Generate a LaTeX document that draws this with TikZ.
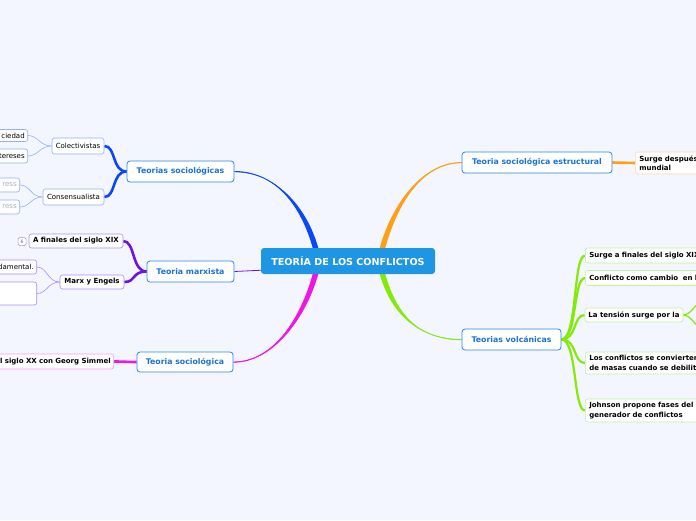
\documentclass[tikz,border=0pt]{standalone}
\usepackage{fontspec}
\setmainfont{DejaVu Sans}
\usetikzlibrary{calc}
\pgfdeclarelayer{edges}
\pgfsetlayers{edges,main}
\definecolor{bgc}{RGB}{243,246,254}
\definecolor{rootfill}{RGB}{30,150,228}
\definecolor{mainborder}{RGB}{45,135,230}
\definecolor{maintext}{RGB}{25,115,215}
\definecolor{cblue}{RGB}{10,70,250}
\definecolor{corange}{RGB}{255,160,20}
\definecolor{cmag}{RGB}{240,20,230}
\definecolor{cgreen}{RGB}{130,235,10}
\definecolor{cpurple}{RGB}{110,20,225}
\definecolor{lblue}{RGB}{150,175,250}
\definecolor{lpurple}{RGB}{175,140,245}
\definecolor{lpink}{RGB}{240,160,240}
\definecolor{lorange}{RGB}{250,215,170}
\definecolor{lgreen}{RGB}{195,240,160}
\definecolor{grayt}{RGB}{170,175,188}
\newcommand\taperedge[6]{%
  \fill[#1] (#2) .. controls +(#4) and +(#5) .. ($(#3)+(-#6,0)$) -- ($(#3)+(#6,0)$) .. controls +(#5) and +(#4) .. ($(#2)+(0,0.6)$) -- cycle;
  \draw[#1, line width=0.9pt] (#2) .. controls +(#4) and +(#5) .. (#3);}
\begin{document}
\begin{tikzpicture}[x=1pt,y=-1pt,
  mainbox/.style={draw=mainborder,fill=white,rounded corners=3pt,line width=0.8pt,text=maintext,font=\bfseries\fontsize{7.8}{9}\selectfont,inner sep=0pt},
  subbox/.style={draw=#1,fill=white,rounded corners=2.5pt,line width=0.6pt,font=\fontsize{7}{9.5}\selectfont,inner sep=0pt},
  subbold/.style={subbox=#1,font=\bfseries\fontsize{7}{9.5}\selectfont},
  rcut/.style={anchor=west,inner xsep=4pt,inner ysep=0pt,text width=160pt,align=left},
  lcut/.style={anchor=east,inner xsep=3pt,inner ysep=0pt,text width=60pt,align=right},
  thickedge/.style={line width=2.6pt},
  thinedge/.style={line width=0.6pt}
]
\useasboundingbox (0,0) rectangle (696,520);
\begin{pgfonlayer}{edges}
\fill[bgc] (0,0) rectangle (696,520);
\end{pgfonlayer}

% root
\node[fill=rootfill,rounded corners=3pt,text=white,font=\bfseries\fontsize{9.6}{11}\selectfont,minimum width=174pt,minimum height=26pt,inner sep=0pt] (root) at (348,261) {TEORÍA DE LOS CONFLICTOS};

% Teorias sociologicas
\node[mainbox,minimum width=107pt,minimum height=21pt] (soc) at (180.5,171.5) {Teorias sociológicas};
\node[subbox=lblue,minimum width=52pt,minimum height=16pt] (col) at (78,146) {Colectivistas};
\node[subbox=lblue,minimum width=61pt,minimum height=16pt] (cons) at (73.5,197) {Consensualista};
\node[subbox=lblue,lcut,minimum height=12pt] (c1) at (28,135.5) {ciedad};
\node[subbox=lblue,lcut,minimum height=14pt] (c2) at (28,156) {tereses};
\node[subbox=lblue,lcut,minimum height=14pt,text=grayt] (g1) at (20,185) {ress};
\node[subbox=lblue,lcut,minimum height=14pt,text=grayt] (g2) at (20,207) {ress};

% Teoria marxista
\node[mainbox,minimum width=87pt,minimum height=21pt] (marx) at (190.5,271.5) {Teoria marxista};
\node[subbold=lpurple,minimum width=94pt,minimum height=14pt] (fin) at (76,241) {A finales del siglo XIX};
\node[draw=lpurple,fill=white,rounded corners=1.5pt,line width=0.5pt,font=\fontsize{4.5}{5}\selectfont,text=black!60,minimum width=8pt,minimum height=8pt,inner sep=0pt] (ic) at (22,241.5) {6};
\node[subbold=lpurple,minimum width=64pt,minimum height=14pt] (me) at (92,282) {Marx y Engels};
\node[subbox=lpurple,lcut,minimum height=14pt] (d1) at (37,267) {damental.};
\node[subbox=lpurple,lcut,minimum height=23pt] (d2) at (37,293.5) {};

% Teoria sociologica
\node[mainbox,minimum width=96pt,minimum height=20pt] (socio) at (185,362) {Teoria sociológica};
\node[subbold=lpink,lcut,text width=140pt,minimum height=15pt] (sim) at (114,361.5) {l siglo XX con Georg Simmel};

% estructural
\node[mainbox,minimum width=150pt,minimum height=21pt] (est) at (537,162.5) {Teoria sociológica estructural};
\node[subbold=lorange,rcut,minimum height=22pt] (surg) at (635,163) {Surge después\\mundial};

% volcanicas
\node[mainbox,minimum width=99pt,minimum height=21pt] (volc) at (511.5,339.5) {Teorias volcánicas};
\node[subbold=lgreen,rcut,minimum height=15pt] (v1) at (585,255.5) {Surge a finales del siglo XIX};
\node[subbold=lgreen,rcut,minimum height=15pt] (v2) at (585,278) {Conflicto como cambio\ \ en l};
\node[subbold=lgreen,minimum width=98pt,minimum height=14pt] (v3) at (634,315) {La tensión surge por la};
\node[subbold=lgreen,rcut,minimum height=22pt] (v4) at (585,363) {Los conflictos se convierten\\de masas cuando se debilita};
\node[subbold=lgreen,rcut,minimum height=23pt] (v5) at (585,410.5) {Johnson propone fases del\\generador de conflictos};

\coordinate (rb) at ($(root.north)+(-32,2)$);
\coordinate (ro) at ($(root.north)+(34,2)$);
\coordinate (rm) at ($(root.south)+(-32,-2)$);
\coordinate (rg) at ($(root.south)+(34,-2)$);
\coordinate (rp) at ($(root.south west)+(1,-4)$);
\coordinate (o1) at (702,302);
\coordinate (o2) at (702,328);

\begin{pgfonlayer}{edges}
\taperedge{cblue}{soc.east}{rb}{40,0}{-12,-45}{2.8}
\taperedge{corange}{est.west}{ro}{-40,0}{12,-45}{2.8}
\taperedge{cmag}{socio.east}{rm}{40,0}{-12,45}{2.8}
\taperedge{cgreen}{volc.west}{rg}{-40,0}{12,45}{2.8}
\draw[cpurple,line width=0.8pt] (rp) -- (marx.east);

\draw[cblue,thickedge] (soc.west) .. controls +(-15,0) and +(12,0) .. (col.east);
\draw[cblue,thickedge] (soc.west) .. controls +(-15,0) and +(12,0) .. (cons.east);
\draw[lblue,thinedge] (col.west) .. controls +(-12,0) and +(10,0) .. (c1.east);
\draw[lblue,thinedge] (col.west) .. controls +(-12,0) and +(10,0) .. (c2.east);
\draw[lblue,thinedge] (cons.west) .. controls +(-12,0) and +(10,0) .. (g1.east);
\draw[lblue,thinedge] (cons.west) .. controls +(-12,0) and +(10,0) .. (g2.east);

\draw[cpurple,thickedge] (marx.west) .. controls +(-15,0) and +(12,0) .. (fin.east);
\draw[cpurple,thickedge] (marx.west) .. controls +(-15,0) and +(12,0) .. (me.east);
\draw[lpurple,thinedge] (me.west) .. controls +(-12,0) and +(10,0) .. (d1.east);
\draw[lpurple,thinedge] (me.west) .. controls +(-12,0) and +(10,0) .. (d2.east);

\draw[cmag,line width=2.6pt] (socio.west) .. controls +(-10,0) and +(10,0) .. (sim.east);
\draw[corange,line width=2.6pt] (est.east) -- (surg.west);

\draw[cgreen,line width=2.2pt] (volc.east) .. controls +(16,0) and +(-12,0) .. (v1.west);
\draw[cgreen,line width=2.2pt] (volc.east) .. controls +(16,0) and +(-12,0) .. (v2.west);
\draw[cgreen,line width=2.2pt] (volc.east) .. controls +(16,0) and +(-12,0) .. (v3.west);
\draw[cgreen,line width=2.2pt] (volc.east) .. controls +(16,0) and +(-12,0) .. (v4.west);
\draw[cgreen,line width=2.2pt] (volc.east) .. controls +(16,0) and +(-12,0) .. (v5.west);
\draw[cgreen,line width=1.2pt] (v3.east) .. controls +(8,0) and +(-6,0) .. (o1);
\draw[cgreen,line width=1.2pt] (v3.east) .. controls +(8,0) and +(-6,0) .. (o2);
\end{pgfonlayer}
\end{tikzpicture}
\end{document}
